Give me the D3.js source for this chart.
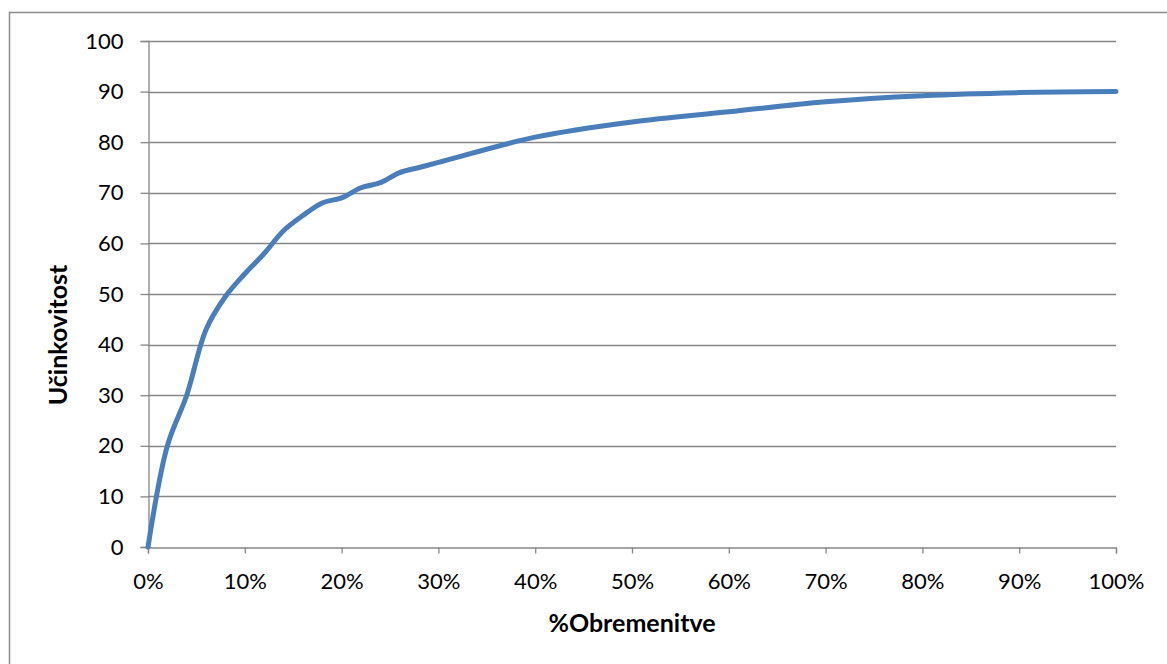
<!DOCTYPE html>
<html>
<head>
<meta charset="utf-8">
<script src="https://cdn.jsdelivr.net/npm/d3@7"></script>
<style>
  html, body { margin: 0; padding: 0; background: #fff; }
  svg { display: block; }
  text { font-family: Lato, "Open Sans", sans-serif; fill: #000; }
</style>
</head>
<body>
<svg id="chart" width="1167" height="664"></svg>
<script>
// Data
const loadPct = [0, 2, 4, 6, 8, 10, 12, 14, 16, 18, 20, 22, 24, 26, 28, 30, 40, 50, 60, 70, 80, 90, 100];
const efficiency = [0, 20, 30, 43, 49.5, 54, 58, 62.5, 65.5, 68, 69, 71, 72, 74, 75, 76, 81, 84, 86, 88, 89.2, 89.8, 90];
const yTicks = [0, 10, 20, 30, 40, 50, 60, 70, 80, 90, 100];
const xTicks = [0, 10, 20, 30, 40, 50, 60, 70, 80, 90, 100];
const xTitle = "%Obremenitve";
const yTitle = "Učinkovitost";

const svg = d3.select("#chart");
const pL = 148, pR = 1116, pT = 41, pB = 547;

// outer frame
svg.append("rect")
  .attr("x", 9.5).attr("y", 12.5)
  .attr("width", 1180).attr("height", 680)
  .attr("fill", "none").attr("stroke", "#8c8c8c").attr("stroke-width", 1.5);

const x = d3.scaleLinear().domain([0, 100]).range([pL, pR]);
const y = d3.scaleLinear().domain([0, 100]).range([pB, pT]);

// gridlines
svg.append("g").selectAll("line").data(yTicks.filter(d => d > 0)).join("line")
  .attr("x1", pL).attr("x2", pR)
  .attr("y1", d => Math.round(y(d)) + 0.5).attr("y2", d => Math.round(y(d)) + 0.5)
  .attr("stroke", "#868686").attr("stroke-width", 1.3);

// Y axis
const yAxis = svg.append("g")
  .attr("transform", `translate(${pL + 0.5},0)`)
  .call(d3.axisLeft(y).tickValues(yTicks).tickSize(8).tickPadding(17).tickFormat(d3.format("d")));
yAxis.select(".domain").attr("stroke", "#868686").attr("stroke-width", 1.3);
yAxis.selectAll(".tick line").attr("stroke", "#868686").attr("stroke-width", 1.3);
yAxis.selectAll(".tick text").style("font-size", "22px").style("font-family", "Lato, sans-serif").attr("fill", "#000");

// X axis
const xAxis = svg.append("g")
  .attr("transform", `translate(0,${pB + 0.5})`)
  .call(d3.axisBottom(x).tickValues(xTicks).tickSize(6).tickPadding(20).tickFormat(d => d + "%"));
xAxis.select(".domain").attr("stroke", "#868686").attr("stroke-width", 1.3);
xAxis.selectAll(".tick line").attr("stroke", "#868686").attr("stroke-width", 1.3);
xAxis.selectAll(".tick text").style("font-size", "22px").style("font-family", "Lato, sans-serif").attr("fill", "#000");

// line
const line = d3.line()
  .x((d, i) => x(loadPct[i]))
  .y(d => y(d))
  .curve(d3.curveCatmullRom.alpha(0.5));
svg.append("path")
  .datum(efficiency)
  .attr("d", line)
  .attr("fill", "none")
  .attr("stroke", "#4a7ebb")
  .attr("stroke-width", 5)
  .attr("stroke-linejoin", "round")
  .attr("stroke-linecap", "round");

// titles
svg.append("text")
  .attr("x", 632).attr("y", 632)
  .attr("text-anchor", "middle")
  .style("font-size", "25px").style("font-weight", "bold")
  .text(xTitle);
svg.append("text")
  .attr("transform", `translate(67,335) rotate(-90)`)
  .attr("text-anchor", "middle")
  .style("font-size", "25px").style("font-weight", "bold")
  .text(yTitle);
</script>
</body>
</html>
